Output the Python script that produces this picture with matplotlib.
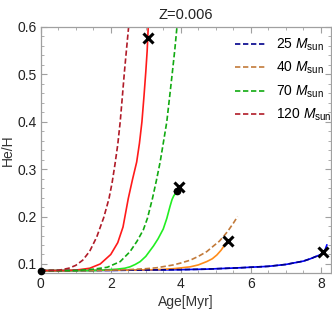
import matplotlib
matplotlib.use("Agg")
import matplotlib.pyplot as plt
from matplotlib.ticker import MultipleLocator, FuncFormatter

plt.rcParams['font.family'] = ['Liberation Sans', 'DejaVu Sans']
plt.rcParams['mathtext.fontset'] = 'custom'
plt.rcParams['mathtext.rm'] = 'Liberation Sans'
plt.rcParams['mathtext.it'] = 'Liberation Sans:italic'

# ---- data ----
# 25 Msun
m25_solid_x = [0.0, 2.0, 4.0, 4.7, 5.7, 6.5, 7.0, 7.5, 7.7, 7.9, 8.0, 8.07, 8.12, 8.17]
m25_solid_y = [0.086, 0.0865, 0.088, 0.089, 0.092, 0.095, 0.099, 0.106, 0.111, 0.117, 0.120, 0.124, 0.130, 0.140]
m25_dash_x = [0.0, 2.0, 4.0, 4.7, 5.7, 6.5, 7.0, 7.5, 7.7, 7.9, 8.0, 8.1]
m25_dash_y = [0.086, 0.0865, 0.088, 0.089, 0.092, 0.095, 0.099, 0.106, 0.111, 0.117, 0.120, 0.126]
# 40 Msun
m40_solid_x = [0.0, 2.5, 3.3, 3.79, 4.27, 4.5, 4.74, 4.9, 5.03, 5.15, 5.27]
m40_solid_y = [0.086, 0.087, 0.088, 0.090, 0.094, 0.098, 0.105, 0.111, 0.119, 0.129, 0.142]
m40_dash_x = [0.0, 1.5, 2.5, 3.0, 3.31, 3.79, 4.0, 4.27, 4.5, 4.74, 4.95, 5.1, 5.22, 5.35, 5.5, 5.62]
m40_dash_y = [0.086, 0.086, 0.088, 0.090, 0.092, 0.098, 0.102, 0.108, 0.116, 0.126, 0.139, 0.148, 0.158, 0.170, 0.186, 0.200]
# 70 Msun
m70_solid_x = [0.0, 1.5, 2.17, 2.4, 2.55, 2.7, 2.84, 3.0, 3.12, 3.22, 3.35, 3.5, 3.6, 3.69, 3.75, 3.8, 3.85, 3.9]
m70_solid_y = [0.086, 0.086, 0.089, 0.091, 0.094, 0.099, 0.105, 0.116, 0.128, 0.138, 0.153, 0.174, 0.196, 0.221, 0.236, 0.244, 0.249, 0.254]
m70_dash_x = [0.0, 1.0, 1.5, 1.9, 2.27, 2.55, 2.75, 2.93, 3.05, 3.19, 3.3, 3.41, 3.5, 3.6, 3.68, 3.76, 3.83, 3.89, 3.93]
m70_dash_y = [0.086, 0.086, 0.089, 0.093, 0.105, 0.126, 0.148, 0.172, 0.197, 0.238, 0.275, 0.315, 0.355, 0.400, 0.452, 0.505, 0.553, 0.600, 0.640]
# 120 Msun
m120_solid_x = [0.0, 0.8, 1.1, 1.4, 1.7, 2.0, 2.2, 2.35, 2.5, 2.62, 2.74, 2.82, 2.89, 2.95, 3.0, 3.04, 3.07, 3.09]
m120_solid_y = [0.086, 0.086, 0.088, 0.091, 0.100, 0.120, 0.145, 0.178, 0.238, 0.278, 0.315, 0.355, 0.400, 0.455, 0.505, 0.550, 0.600, 0.640]
m120_dash_x = [0.0, 0.5, 0.8, 1.0, 1.2, 1.4, 1.6, 1.8, 1.95, 2.04, 2.12, 2.2, 2.27, 2.33, 2.39, 2.45, 2.51, 2.56]
m120_dash_y = [0.086, 0.0865, 0.091, 0.097, 0.108, 0.127, 0.157, 0.198, 0.238, 0.272, 0.310, 0.352, 0.400, 0.452, 0.505, 0.553, 0.600, 0.640]

dots_x = [0.0, 3.9]
dots_y = [0.086, 0.254]
cross_x = [3.06, 3.96, 5.36, 8.07]
cross_y = [0.577, 0.263, 0.149, 0.125]

labels = ["25", "40", "70", "120"]

# ---- figure ----
fig = plt.figure(figsize=(3.32, 3.12), dpi=100)
ax = fig.add_axes([0.1226, 0.126, 0.8735, 0.7875])

lw = 1.2
ax.plot(m25_solid_x, m25_solid_y, color="#0000FF", lw=lw)
ax.plot(m40_solid_x, m40_solid_y, color="#FF8C1A", lw=lw)
ax.plot(m70_solid_x, m70_solid_y, color="#22EE22", lw=lw)
ax.plot(m120_solid_x, m120_solid_y, color="#FF1A1A", lw=lw)

dash = (0, (3.2, 1.6))
h25, = ax.plot(m25_dash_x, m25_dash_y, color="#00008B", lw=lw, ls=dash)
h40, = ax.plot(m40_dash_x, m40_dash_y, color="#C27A3A", lw=lw, ls=dash)
h70, = ax.plot(m70_dash_x, m70_dash_y, color="#11AA11", lw=lw, ls=dash)
h120, = ax.plot(m120_dash_x, m120_dash_y, color="#B01B28", lw=lw, ls=dash)

ax.plot(dots_x, dots_y, "o", color="black", ms=4.5, clip_on=False, zorder=5)
ax.plot(cross_x, cross_y, "x", color="black", ms=7, mew=2.2, zorder=6)

ax.set_xlim(0, 8.28)
ax.set_ylim(0.0816, 0.6)

ax.xaxis.set_major_locator(MultipleLocator(2))
ax.xaxis.set_minor_locator(MultipleLocator(0.5))
ax.yaxis.set_major_locator(MultipleLocator(0.1))
ax.yaxis.set_minor_locator(MultipleLocator(0.02))
ax.xaxis.set_major_formatter(FuncFormatter(lambda v, p: f"{v:.0f}"))
ax.yaxis.set_major_formatter(FuncFormatter(lambda v, p: f"{v:.1f}"))

frame_col = "#A0A0A0"
for s in ax.spines.values():
    s.set_color(frame_col)
    s.set_linewidth(0.9)
ax.tick_params(which="both", direction="in", top=True, right=True,
               color=frame_col, labelsize=10, labelcolor="#222222", pad=3)
ax.tick_params(which="major", length=4, width=0.8)
ax.tick_params(which="minor", length=2, width=0.6)

ax.set_xlabel("Age[Myr]", fontsize=10, color="#333333", labelpad=3)
ax.set_ylabel("He/H", fontsize=10, color="#333333", labelpad=2)
ax.set_title("Z=0.006", fontsize=10.5, color="#222222", pad=6)

leg = ax.legend([h25, h40, h70, h120],
                [rf"{m} $M_{{\rm sun}}$" for m in labels],
                loc="upper right", bbox_to_anchor=(1.035, 1.0),
                frameon=False, fontsize=10,
                handlelength=2.2, handletextpad=0.7, labelspacing=0.5,
                borderaxespad=0.3)

fig.savefig("out.png", dpi=100)
